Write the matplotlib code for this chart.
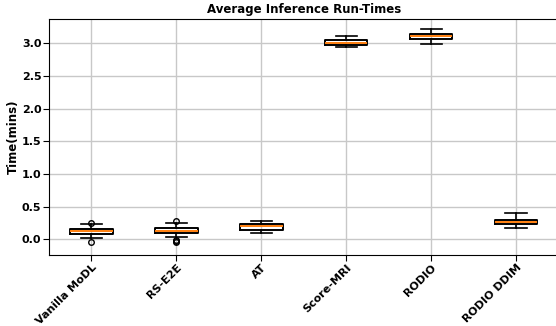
import matplotlib
matplotlib.use("Agg")
import matplotlib.pyplot as plt

methods = ["Vanilla MoDL", "RS-E2E", "AT", "Score-MRI", "RODIO", "RODIO DDIM"]
medians = [0.122, 0.132, 0.204, 3.005, 3.112, 0.27]
q1 = [0.076, 0.092, 0.142, 2.974, 3.061, 0.23]
q3 = [0.158, 0.173, 0.230, 3.046, 3.142, 0.30]
whislo = [0.015, 0.040, 0.092, 2.948, 2.990, 0.168]
whishi = [0.230, 0.245, 0.280, 3.107, 3.214, 0.398]
fliers = [[0.25, -0.037], [0.275, -0.015, -0.03, -0.045], [], [], [], []]


def main() -> None:
    stats = [
        {"label": m, "med": md, "q1": a, "q3": b, "whislo": lo, "whishi": hi, "fliers": fl}
        for m, md, a, b, lo, hi, fl in zip(methods, medians, q1, q3, whislo, whishi, fliers)
    ]

    fig = plt.figure(figsize=(5.56, 3.26), dpi=100)
    # axes run a little past the right edge, as in the reference crop
    ax = fig.add_axes([0.0881, 0.218, 0.9164, 0.725])
    ax.bxp(
        stats,
        showfliers=True,
        boxprops={"linewidth": 1.4},
        whiskerprops={"linewidth": 1.2},
        capprops={"linewidth": 1.2},
        medianprops={"color": "#ff7f0e", "linewidth": 1.4},
        flierprops={"marker": "o", "markerfacecolor": "none", "markersize": 4},
    )
    ax.set_xlim(0.5, 6.5)
    ax.set_ylim(-0.24, 3.377)
    ax.grid(True, color="#c8c8c8", linewidth=1.0)
    ax.set_axisbelow(True)
    ax.tick_params(length=4, pad=1.5)
    ax.set_title("Average Inference Run-Times", fontsize=8.5, fontweight="bold", pad=4)
    ax.set_ylabel("Time(mins)", fontsize=8.5, fontweight="bold", labelpad=1)
    ax.set_xticks(range(1, len(methods) + 1), methods, rotation=45, ha="right",
                  rotation_mode="anchor", fontsize=8, fontweight="bold")
    for label in ax.get_yticklabels():
        label.set_fontweight("bold")
        label.set_fontsize(8)
    fig.savefig("out.png", dpi=100)
    plt.close(fig)


if __name__ == "__main__":
    main()
